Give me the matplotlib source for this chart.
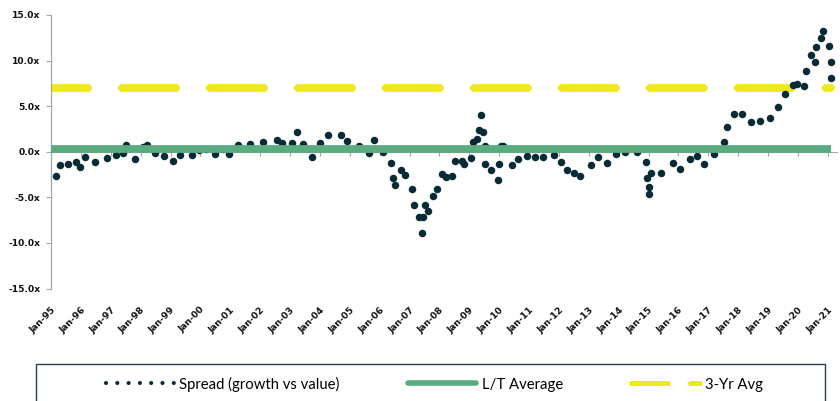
import matplotlib
matplotlib.use("Agg")
import matplotlib.pyplot as plt
from matplotlib.lines import Line2D
from matplotlib.patches import Rectangle

# spread (growth vs value), x in decimal years
spread_years = [
    1995.16, 1995.29, 1995.58, 1995.85, 1995.96, 1996.13, 1996.48, 1996.89,
    1997.19, 1997.41, 1997.52, 1997.81, 1998.08, 1998.23, 1998.47, 1998.79,
    1999.09, 1999.32, 1999.71, 1999.95, 2000.20, 2000.49, 2000.75, 2000.96,
    2001.27, 2001.67, 2002.09, 2002.58, 2002.73, 2003.08, 2003.23, 2003.43,
    2003.74, 2004.00, 2004.27, 2004.72, 2004.90, 2005.32, 2005.63, 2005.82,
    2006.10, 2006.38, 2006.46, 2006.52, 2006.71, 2006.86, 2007.08, 2007.16,
    2007.33, 2007.42, 2007.44, 2007.53, 2007.61, 2007.77, 2007.92, 2008.09,
    2008.22, 2008.42, 2008.53, 2008.76, 2008.83, 2009.06, 2009.11, 2009.25,
    2009.31, 2009.39, 2009.47, 2009.51, 2009.53, 2009.74, 2009.95, 2009.99,
    2010.06, 2010.12, 2010.43, 2010.64, 2010.92, 2011.21, 2011.46, 2011.82,
    2012.07, 2012.26, 2012.51, 2012.69, 2013.08, 2013.30, 2013.60, 2013.92,
    2014.20, 2014.60, 2014.92, 2014.94, 2015.00, 2015.03, 2015.07, 2015.42,
    2015.81, 2016.05, 2016.37, 2016.63, 2016.87, 2017.20, 2017.52, 2017.62,
    2017.86, 2018.12, 2018.42, 2018.74, 2019.08, 2019.33, 2019.56, 2019.84,
    2019.98, 2020.20, 2020.28, 2020.45, 2020.56, 2020.62, 2020.76, 2020.84,
    2021.04, 2021.09, 2021.12,
]
spread_values = [
    -2.6, -1.5, -1.3, -1.1, -1.7, -0.6, -1.1, -0.7,
    -0.4, -0.1, 0.7, -0.8, 0.5, 0.7, -0.1, -0.5,
    -1.0, -0.4, -0.4, 0.2, 0.3, -0.2, 0.3, -0.2,
    0.8, 0.9, 1.05, 1.3, 0.95, 0.95, 2.15, 0.85,
    -0.6, 1.0, 1.8, 1.8, 1.2, 0.6, -0.15, 1.3,
    0.0, -1.2, -2.85, -3.6, -2.0, -2.5, -4.05, -5.8,
    -7.1, -8.85, -7.1, -5.8, -6.5, -4.9, -4.05, -2.4,
    -2.8, -2.6, -1.0, -1.0, -1.3, -0.7, 1.1, 1.4,
    2.4, 4.0, 2.2, 0.6, -1.3, -2.0, -3.1, -1.3,
    0.6, 0.6, -1.5, -0.8, -0.5, -0.6, -0.6, -0.4,
    -1.1, -2.0, -2.3, -2.6, -1.5, -0.6, -1.2, -0.25,
    0.0, 0.0, -1.1, -2.9, -4.6, -3.9, -2.3, -2.3,
    -1.25, -1.85, -0.8, -0.5, -1.3, -0.2, 1.05, 2.75,
    4.1, 4.1, 3.3, 3.4, 3.7, 4.9, 6.35, 7.35,
    7.4, 7.2, 8.9, 10.6, 9.8, 11.5, 12.45, 13.3,
    11.6, 9.8, 8.1,
]
lt_average = 0.3
three_yr_avg = 7.0
line_span = [1995.0, 2021.12]
tick_years = list(range(1995, 2022))
tick_labels = ["Jan-%02d" % (y % 100) for y in tick_years]
y_ticks = [-15, -10, -5, 0, 5, 10, 15]

dark = "#082B36"
green = "#5AAB7F"
yellow = "#EDE91D"
gray = "#A6A6A6"

fig = plt.figure(figsize=(8.4, 4.01), dpi=100)
ax = fig.add_axes([0.0607, 0.2803, 0.9355, 0.6823])

ax.plot(line_span, [three_yr_avg] * 2, color=yellow, lw=5.6,
        linestyle=(2.2, (6.97, 4.34)), dash_capstyle="round", zorder=2)
ax.plot(spread_years, spread_values, linestyle="none", marker="o",
        markersize=5.4, markeredgewidth=0, color=dark, zorder=3)
ax.plot(line_span, [lt_average] * 2, color=green, lw=5.6,
        solid_capstyle="butt", zorder=4)

ax.set_xlim(1995, 2021.3)
ax.set_ylim(-15, 15)

for s in ["top", "right", "bottom"]:
    ax.spines[s].set_visible(False)
ax.spines["left"].set_color(gray)
ax.spines["left"].set_linewidth(0.9)

ax.set_yticks(y_ticks, labels=["%.1fx" % v for v in y_ticks])
ax.tick_params(axis="y", length=3.5, color=gray, pad=4)
ax.set_xticks(tick_years, labels=tick_labels)
ax.tick_params(axis="x", length=0, pad=12)
for lab in ax.get_xticklabels():
    lab.set_rotation(45)
    lab.set_ha("right")
    lab.set_va("top")
    lab.set_rotation_mode("anchor")
for lab in ax.get_xticklabels() + ax.get_yticklabels():
    lab.set_fontfamily("DejaVu Sans")
    lab.set_fontweight("bold")
    lab.set_fontsize(6.6)
    lab.set_color("#111111")

# category axis crosses at zero
sec = ax.secondary_xaxis(0.5)
sec.set_alignment("bottom")
sec.set_xticks(tick_years, labels=[])
sec.tick_params(axis="x", length=3, color=gray, direction="out")
sec.spines["bottom"].set_color(gray)

# legend box
fig.patches.append(Rectangle((36 / 840, -0.05), 789 / 840, 0.05 + 1 - 364 / 401,
                             transform=fig.transFigure, fill=False,
                             edgecolor="#2B3F4C", lw=1.0))

handles = [
    Line2D([], [], color=dark, lw=3.0, linestyle=(0, (0.01, 2.7)),
           dash_capstyle="round"),
    Line2D([], [], color=green, lw=4.0, solid_capstyle="round"),
    Line2D([], [], color=yellow, lw=3.6, linestyle=(0, (7.4, 4.4)),
           dash_capstyle="round"),
]
labels = ["Spread (growth vs value)", "L/T Average", "3-Yr Avg"]
fig.legend(handles, labels, loc="center", bbox_to_anchor=(0.517, 1 - 384 / 401),
           ncol=3, frameon=False, handlelength=4.6, handletextpad=0.35,
           columnspacing=4.6, prop={"family": ["Lato", "DejaVu Sans"], "size": 10.7})

fig.savefig("out.png", dpi=100)
